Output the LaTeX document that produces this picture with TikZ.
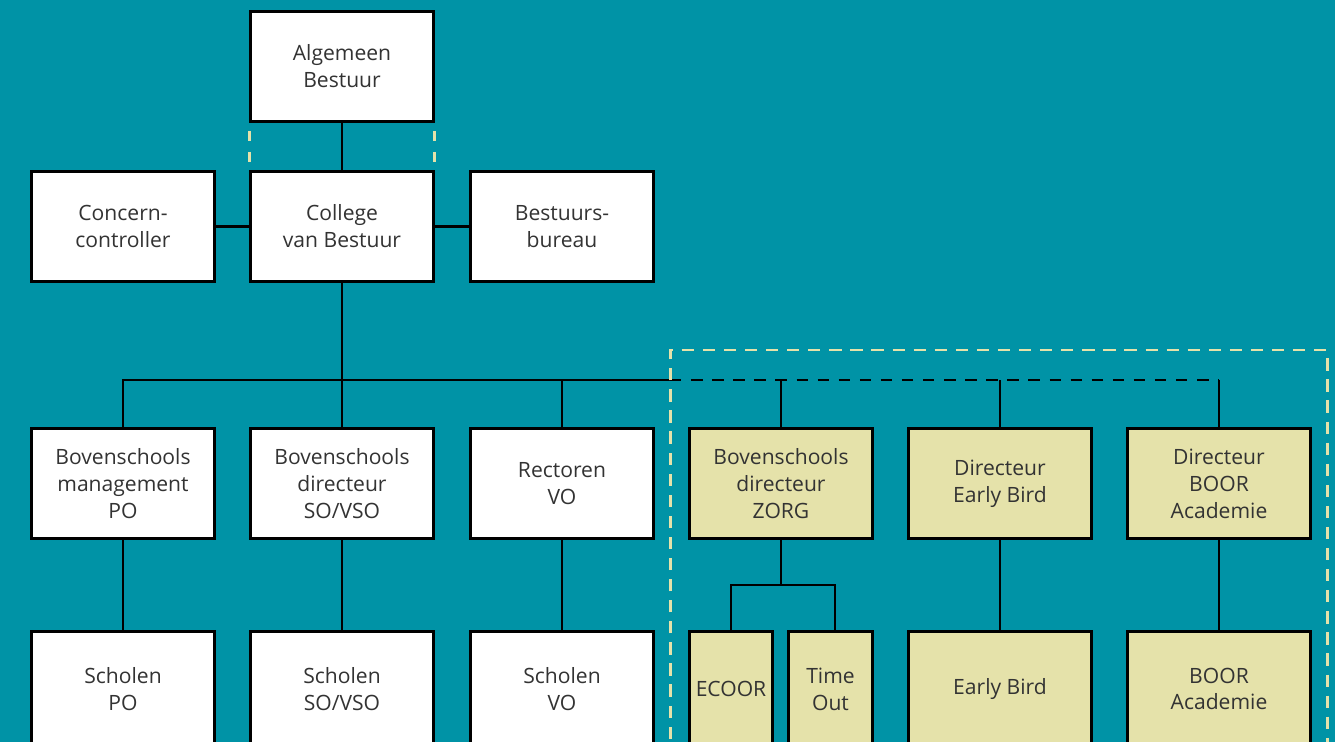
\documentclass[tikz,border=0pt]{standalone}
\usepackage{fontspec}
\setmainfont{Open Sans}
\definecolor{teal}{RGB}{0,147,166}
\definecolor{cream}{RGB}{229,226,170}
\definecolor{ink}{RGB}{51,51,51}
\tikzset{
  box/.style={draw=black, line width=1.6pt, fill=white, minimum width=3.66cm,
    minimum height=2.2cm, align=center, inner sep=1pt, text=ink,
    font=\fontsize{12}{15.3}\selectfont},
  zbox/.style={box, fill=cream},
  link/.style={draw=black, line width=1.4pt},
  creamdash/.style={draw=cream, line width=1.7pt, dash pattern=on 7pt off 5pt}
}

\begin{document}
\begin{tikzpicture}[x=0.02cm, y=-0.02cm]
\fill[teal] (0,0) rectangle (1335,742);
\useasboundingbox (0,0) rectangle (1335,742);
\clip (0,0) rectangle (1335,742);

% bestuur
\node[box] (ab) at (342, 66.5) {Algemeen\\Bestuur};
\node[box] (cc) at (123, 226.5) {Concern-\\controller};
\node[box] (cvb) at (342, 226.5) {College\\van Bestuur};
\node[box] (bb) at (562, 226.5) {Bestuurs-\\bureau};

% directie
\node[box] (bmpo) at (123, 483.5) {Bovenschools\\management\\PO};
\node[box] (bdso) at (342, 483.5) {Bovenschools\\directeur\\SO/VSO};
\node[box] (rvo) at (562, 483.5) {Rectoren\\VO};
\node[zbox] (bdz) at (781, 483.5) {Bovenschools\\directeur\\ZORG};
\node[zbox] (deb) at (1000, 483.5) {Directeur\\Early Bird};
\node[zbox] (dba) at (1219, 483.5) {Directeur\\BOOR\\Academie};

% scholen
\node[box, minimum height=2.3cm] (spo) at (123, 689) {Scholen\\PO};
\node[box, minimum height=2.3cm] (sso) at (342, 689) {Scholen\\SO/VSO};
\node[box, minimum height=2.3cm] (svo) at (562, 689) {Scholen\\VO};
\node[zbox, minimum height=2.3cm, minimum width=1.66cm] (ecoor) at (731, 689) {ECOOR};
\node[zbox, minimum height=2.3cm, minimum width=1.68cm] (tout) at (830.5, 689) {Time\\Out};
\node[zbox, minimum height=2.3cm] (eb) at (1000, 689) {Early Bird};
\node[zbox, minimum height=2.3cm] (boor) at (1219, 689) {BOOR\\Academie};

\coordinate (split) at (670, 380);
\coordinate (zfork) at (781, 585);

\draw[link] (ab) -- (cvb);
\draw[link] (cc) -- (cvb);
\draw[link] (cvb) -- (bb);
\draw[creamdash, dash pattern=on 0.2cm off 0.22cm, dash phase=-0.16cm]
  (ab.south west) -- (cvb.north west);
\draw[creamdash, dash pattern=on 0.2cm off 0.22cm, dash phase=-0.16cm]
  (ab.south east) -- (cvb.north east);

% bus
\draw[link] (cvb.south) -- (cvb.south |- split);
\draw[link] (bmpo.north) |- (split);
\draw[link] (bdso.north) -- (bdso.north |- split);
\draw[link] (rvo.north) -- (rvo.north |- split);
\draw[link, dash pattern=on 6.5pt off 5.5pt] (split) -- (split -| dba.north);
\draw[link] (bdz.north) -- (bdz.north |- split);
\draw[link] (deb.north) -- (deb.north |- split);
\draw[link] (dba.north) -- (dba.north |- split);

\draw[creamdash] (670,760) -- (670,350) -- (1327,350) -- (1327,760);

% onder
\draw[link] (bmpo) -- (spo);
\draw[link] (bdso) -- (sso);
\draw[link] (rvo) -- (svo);
\draw[link] (bdz.south) -- (zfork);
\draw[link] (ecoor.north) |- (zfork) -| ([xshift=0.09cm]tout.north);
\draw[link] (deb) -- (eb);
\draw[link] (dba) -- (boor);
\end{tikzpicture}
\end{document}
